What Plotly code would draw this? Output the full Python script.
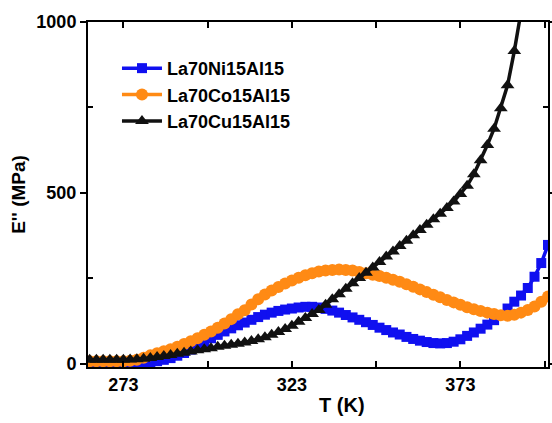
import plotly.graph_objects as go

# Temperature grid (K)
T_ni = [263, 265, 267, 269, 271, 273, 275, 277, 279, 281, 283, 285, 287, 289, 291, 293, 295, 297, 299, 301,
        303, 305, 307, 309, 311, 313, 315, 317, 319, 321, 323, 325, 327, 329, 331, 333, 335, 337, 339, 341,
        343, 345, 347, 349, 351, 353, 355, 357, 359, 361, 363, 365, 367, 369, 371, 373, 375, 377, 379, 381,
        383, 385, 387, 389, 391, 393, 395, 397, 399]
E_ni = [2, 2, 2, 2, 2, 2, 2, 3, 3, 5, 8, 12, 17, 24, 32, 42, 53, 64, 75, 85,
        95, 104, 113, 121, 129, 137, 144, 150, 155, 159, 162, 165, 167, 167, 165, 161, 156, 150, 143, 136,
        129, 122, 114, 106, 99, 92, 86, 79, 73, 68, 64, 61, 60, 61, 65, 72, 82, 92, 103, 115,
        128, 143, 162, 182, 200, 222, 255, 295, 348]

T_co = list(T_ni)
E_co = [8, 8, 8, 8, 8, 8, 9, 12, 18, 25, 31, 37, 43, 50, 58, 66, 75, 85, 95, 106,
        118, 131, 145, 157, 174, 189, 203, 215, 225, 235, 244, 252, 259, 265, 270, 273, 275, 276, 275, 273,
        269, 265, 261, 257, 252, 246, 240, 233, 226, 218, 210, 202, 195, 187, 180, 173, 166, 160, 155, 150,
        146, 142, 141, 144, 150, 158, 168, 182, 197]

T_cu = [263, 265, 267, 269, 271, 273, 275, 277, 279, 281, 283, 285, 287, 289, 291, 293, 295, 297, 299, 301,
        303, 305, 307, 309, 311, 313, 315, 317, 319, 321, 323, 325, 327, 329, 331, 333, 335, 337, 339, 341,
        343, 345, 347, 349, 351, 353, 355, 357, 359, 361, 363, 365, 367, 369, 371, 373, 375, 377, 379, 381,
        383, 385, 387, 389, 391]
E_cu = [12, 12, 12, 12, 12, 12, 13, 14, 15, 17, 20, 23, 26, 30, 33, 36, 40, 43, 46, 50,
        53, 56, 59, 63, 67, 72, 78, 85, 93, 102, 112, 123, 134, 146, 158, 173, 189, 204, 220, 236,
        251, 267, 282, 298, 314, 329, 345, 360, 376, 392, 407, 423, 439, 456, 475, 497, 521, 555, 596, 640,
        688, 748, 815, 915, 1030]

x_ticks = [273, 323, 373]
y_ticks = [0, 500, 1000]
names = ["La70Ni15Al15", "La70Co15Al15", "La70Cu15Al15"]

fig = go.Figure()
fig.add_trace(go.Scatter(x=T_ni, y=E_ni, name=names[0], mode="lines+markers",
                         line=dict(color="#1010F0", width=3.5),
                         marker=dict(symbol="square", size=10, color="#1010F0")))
fig.add_trace(go.Scatter(x=T_co, y=E_co, name=names[1], mode="lines+markers",
                         line=dict(color="#FF8A14", width=3.5),
                         marker=dict(symbol="circle", size=12, color="#FF8A14")))
fig.add_trace(go.Scatter(x=T_cu, y=E_cu, name=names[2], mode="lines+markers",
                         line=dict(color="#111111", width=3.5),
                         marker=dict(symbol="triangle-up", size=12, color="#111111")))

tickfont = dict(family="Liberation Sans, Arial, sans-serif", size=18, color="black", weight="bold")
fig.update_layout(
    width=552, height=423,
    margin=dict(l=88, r=4, t=22, b=56),
    paper_bgcolor="white", plot_bgcolor="white",
    font=dict(family="Liberation Sans, Arial, sans-serif", color="black"),
    showlegend=True,
    legend=dict(x=0.063, y=0.919, xanchor="left", yanchor="top",
                font=dict(size=18, family="Liberation Sans, Arial, sans-serif", color="black", weight="bold"),
                bgcolor="rgba(0,0,0,0)", itemwidth=40),
    annotations=[dict(text="T (K)", xref="paper", yref="paper", x=0.552, y=-0.11,
                      xanchor="center", yanchor="middle", showarrow=False,
                      font=dict(size=20, weight="bold", color="black",
                                family="Liberation Sans, Arial, sans-serif"))],
)
fig.update_xaxes(range=[262.5, 399], tickvals=x_ticks, ticktext=[str(v) for v in x_ticks],
                 ticks="inside", ticklen=6, tickwidth=2, tickcolor="black",
                 showline=True, linewidth=2, linecolor="black", mirror="allticks",
                 showgrid=False, zeroline=False, automargin=False,
                 tickfont=tickfont,
                 minor=dict(tickvals=[298, 348, 398], ticks="inside", ticklen=6, tickwidth=2, tickcolor="black"))
fig.update_yaxes(range=[-9, 1000], tickvals=y_ticks, ticktext=[str(v) for v in y_ticks],
                 ticks="outside", ticklen=6, tickwidth=2, tickcolor="black",
                 showline=True, linewidth=2, linecolor="black", mirror="allticks",
                 showgrid=False, zeroline=False, automargin=False,
                 tickfont=tickfont,
                 minor=dict(tickvals=[250, 750], ticks="inside", ticklen=5, tickwidth=2, tickcolor="black"),
                 title=dict(text="E'' (MPa)", font=dict(size=19, weight="bold"), standoff=6))

fig.write_html("out.html", config={"displayModeBar": False},
               post_script="document.body.style.margin='0';document.body.style.overflow='hidden';")
